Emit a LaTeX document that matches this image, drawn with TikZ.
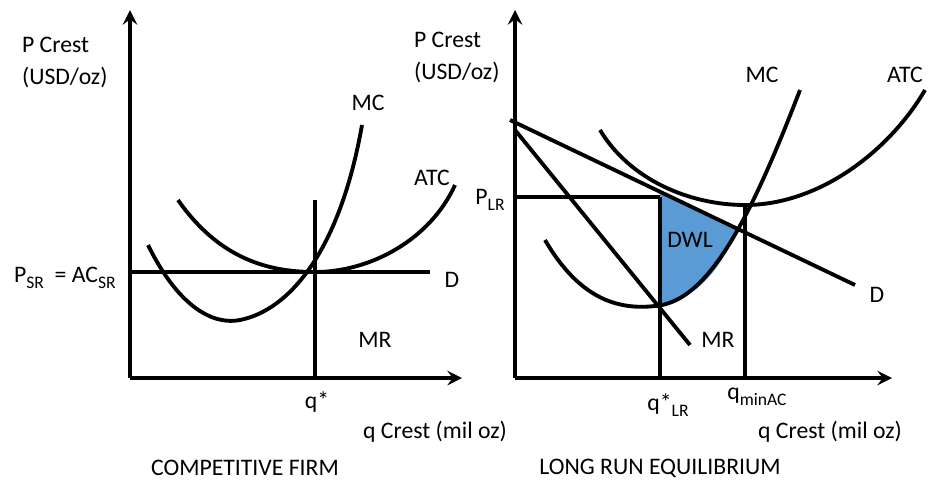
\documentclass[tikz,border=0pt]{standalone}
\usepackage{fontspec}
\setmainfont{Carlito}
\usetikzlibrary{arrows}
\definecolor{dwlblue}{RGB}{91,155,213}
\newcommand{\lowsub}[1]{\raisebox{-0.5ex}{\fontsize{10}{12}\selectfont #1}}
\tikzset{
  curve/.style={line width=2.2pt},
  axis/.style={line width=2.6pt,-{stealth}},
  lbl/.style={font=\fontsize{13.5}{16}\selectfont,inner sep=1pt}
}
\begin{document}
\begin{tikzpicture}[x=0.02cm,y=-0.02cm]
  \useasboundingbox (0,0) rectangle (932,495);
  % competitive firm
  \coordinate (o1) at (130,378);
  \coordinate (yt1) at (130,10);
  \coordinate (xt1) at (462,378);
  \draw[axis] (o1) -- (yt1);
  \draw[axis] (o1) -- (xt1);
  \draw[curve] (148,245) .. controls (180,310) and (215,325) .. (240,320) .. controls (290,310) and (340,250) .. (362,125);
  \draw[curve] (178,200) .. controls (220,260) and (270,272) .. (315,272) .. controls (370,272) and (430,240) .. (455,185);
  \coordinate (d1a) at (130,272);
  \coordinate (d1b) at (430,272);
  \draw[curve] (d1a) -- (d1b);
  \coordinate (q1t) at (315,200);
  \coordinate (q1b) at (315,378);
  \draw[curve] (q1t) -- (q1b);
  \node[lbl,anchor=west] (p1a) at (20,45) {P Crest};
  \node[lbl,anchor=west] (p1b) at (20,77) {(USD/oz)};
  \node[lbl] (mc1) at (368,103) {MC};
  \node[lbl] (atc1) at (432,178) {ATC};
  \node[lbl] (dl1) at (452,280) {D};
  \node[lbl] (mr1) at (375,340) {MR};
  \node[lbl] (qs1) at (317,402) {q*};
  \node[lbl] (qc1) at (435,432) {q Crest (mil oz)};
  \node[lbl,anchor=west] (psr) at (12,278) {P\lowsub{SR}\ \ = AC\lowsub{SR}};
  \node[lbl] (t1) at (245,468) {COMPETITIVE FIRM};
  % long run equilibrium
  \fill[dwlblue] (660,192) -- (660,306) .. controls (700,298) and (725,262) .. (737,228) -- cycle;
  \coordinate (o2) at (515,378);
  \coordinate (yt2) at (515,10);
  \coordinate (xt2) at (892,378);
  \draw[axis] (o2) -- (yt2);
  \draw[axis] (o2) -- (xt2);
  \draw[curve] (545,240) .. controls (580,300) and (620,312) .. (662,305) .. controls (710,295) and (750,220) .. (800,90);
  \draw[curve] (600,130) .. controls (630,180) and (690,205) .. (745,205) .. controls (820,205) and (890,150) .. (925,90);
  \coordinate (d2a) at (510,120);
  \coordinate (d2b) at (855,285);
  \draw[curve] (d2a) -- (d2b);
  \coordinate (mr2a) at (515,130);
  \coordinate (mr2b) at (690,345);
  \draw[curve] (mr2a) -- (mr2b);
  \coordinate (plr1) at (515,197);
  \coordinate (plr2) at (660,197);
  \draw[curve] (plr1) -- (plr2);
  \coordinate (qa) at (660,197);
  \coordinate (qb) at (660,378);
  \draw[curve] (qa) -- (qb);
  \coordinate (qc) at (745,205);
  \coordinate (qd) at (745,378);
  \draw[curve] (qc) -- (qd);
  \node[lbl,anchor=west] (p2a) at (412,40) {P Crest};
  \node[lbl,anchor=west] (p2b) at (412,72) {(USD/oz)};
  \node[lbl] (mc2) at (762,75) {MC};
  \node[lbl] (atc2) at (905,75) {ATC};
  \node[lbl] (dl2) at (877,295) {D};
  \node[lbl] (mr2) at (718,340) {MR};
  \node[lbl] (dwl) at (690,240) {DWL};
  \node[lbl] (plr) at (490,200) {P\lowsub{LR}};
  \node[lbl] (qs2) at (668,405) {q*\lowsub{LR}};
  \node[lbl] (qm) at (757,397) {q\lowsub{minAC}};
  \node[lbl] (qc2) at (830,432) {q Crest (mil oz)};
  \node[lbl] (t2) at (660,468) {LONG RUN EQUILIBRIUM};
\end{tikzpicture}
\end{document}
